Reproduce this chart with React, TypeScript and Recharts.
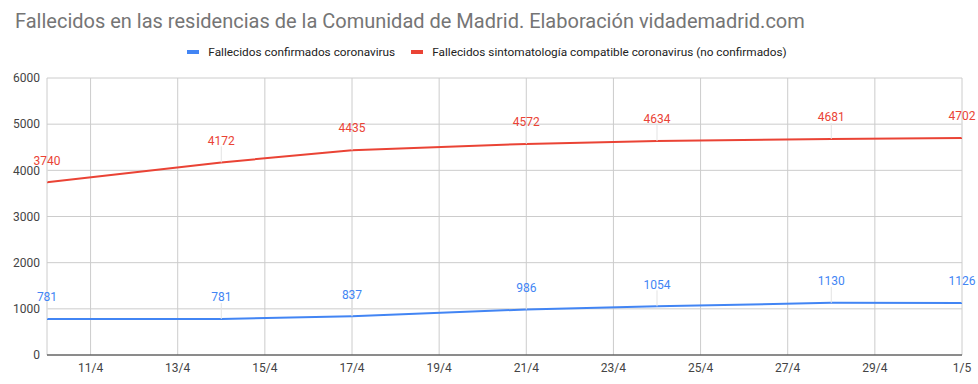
import React from 'react';
import { LineChart, Line, XAxis, YAxis, CartesianGrid, LabelList } from 'recharts';

const title = 'Fallecidos en las residencias de la Comunidad de Madrid. Elaboración vidademadrid.com';
const dates = ['10/4', '14/4', '17/4', '21/4', '24/4', '28/4', '1/5'];
const confirmed = [781, 781, 837, 986, 1054, 1130, 1126];
const compatible = [3740, 4172, 4435, 4572, 4634, 4681, 4702];
const xTickLabels = ['11/4', '13/4', '15/4', '17/4', '19/4', '21/4', '23/4', '25/4', '27/4', '29/4', '1/5'];
const yTicks = [0, 1000, 2000, 3000, 4000, 5000, 6000];
const seriesNames = ['Fallecidos confirmados coronavirus', 'Fallecidos sintomatología compatible coronavirus (no confirmados)'];

const BLUE = '#4285F4';
const RED = '#EA4335';
const FONT = 'Roboto, Arial, sans-serif';

const START = Date.UTC(2020, 3, 10);
const dayIndex = (s: string) => {
  const [d, m] = s.split('/').map(Number);
  return Math.round((Date.UTC(2020, m - 1, d) - START) / 86400000);
};
const indexLabel: Record<number, string> = {};
xTickLabels.forEach((l) => (indexLabel[dayIndex(l)] = l));

const data = dates.map((d, i) => ({ day: dayIndex(d), confirmed: confirmed[i], compatible: compatible[i] }));

const makeLabel = (color: string) => (props: any) => {
  const { x, y, value } = props;
  return (
    <g>
      <line x1={x} y1={y} x2={x} y2={y - 16} stroke="#e3e3e3" strokeWidth={1} />
      <text x={x} y={y - 22} dy="0.35em" textAnchor="middle" fill={color} fontSize={12} fontFamily={FONT}>
        {value}
      </text>
    </g>
  );
};

const LegendBox = () => (
  <div style={{ position: 'absolute', top: 45, left: 0, width: 974, display: 'flex', justifyContent: 'center', alignItems: 'center', fontFamily: FONT, fontSize: 11.8, color: '#222', lineHeight: '14px' }}>
    {[BLUE, RED].map((c, i) => (
      <div key={i} style={{ display: 'flex', alignItems: 'center', marginLeft: i ? 16 : 0 }}>
        <span style={{ display: 'inline-block', width: 12, height: 4, background: c, marginRight: 9 }} />
        <span>{seriesNames[i]}</span>
      </div>
    ))}
  </div>
);

export default function App() {
  return (
    <div style={{ position: 'absolute', left: 0, top: 0, width: 978, height: 384, background: '#fff' }}>
      <LineChart width={978} height={384} data={data} margin={{ top: 78, right: 16, bottom: 0, left: 0 }}>
        <CartesianGrid stroke="#cccccc" vertical horizontal />
        <XAxis
          dataKey="day"
          type="number"
          domain={[0, 21]}
          ticks={xTickLabels.map(dayIndex)}
          tickFormatter={(v: number) => indexLabel[v] ?? ''}
          height={29}
          tickSize={0}
          tickMargin={8}
          axisLine={{ stroke: '#333', strokeWidth: 1 }}
          tick={{ fill: '#444', fontSize: 12, fontFamily: FONT }}
          interval={0}
        />
        <YAxis
          domain={[0, 6000]}
          ticks={yTicks}
          width={47}
          tickSize={0}
          tickMargin={7}
          axisLine={false}
          tick={{ fill: '#444', fontSize: 12, fontFamily: FONT }}
          interval={0}
        />
        <Line dataKey="compatible" name={seriesNames[1]} stroke={RED} strokeWidth={2} dot={false} isAnimationActive={false}>
          <LabelList dataKey="compatible" content={makeLabel(RED)} />
        </Line>
        <Line dataKey="confirmed" name={seriesNames[0]} stroke={BLUE} strokeWidth={2} dot={false} isAnimationActive={false}>
          <LabelList dataKey="confirmed" content={makeLabel(BLUE)} />
        </Line>
      </LineChart>
      <div style={{ position: 'absolute', left: 15, top: 9, fontFamily: FONT, fontSize: 20, color: '#757575', whiteSpace: 'nowrap', lineHeight: '24px' }}>
        {title}
      </div>
      <LegendBox />
    </div>
  );
}
